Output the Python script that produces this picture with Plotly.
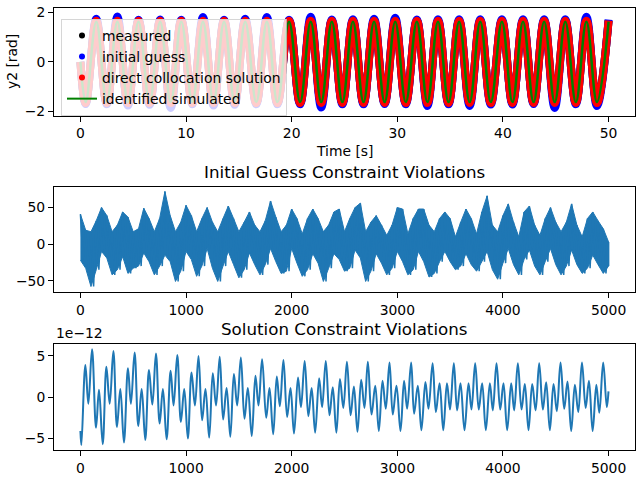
import plotly.graph_objects as go

# ---------------- top panel: y2 [rad] vs time (extrema) ----------------
t_ext = [0.0, 0.5, 1.5, 2.5, 3.5, 4.5, 5.5, 6.55, 7.55, 8.55, 9.55, 10.6, 11.6,
         12.6, 13.6, 14.6, 15.6, 16.65, 17.65, 18.65, 19.75,
         20.8, 21.8, 22.8, 23.8, 24.8, 25.8, 26.8, 27.8, 28.8, 29.8, 30.8,
         31.85, 32.85, 33.85, 34.85, 35.85, 36.85, 37.85, 38.85, 39.9, 40.9, 41.9,
         42.9, 43.9, 44.9, 45.9, 46.9, 47.9, 48.9, 50.0]
measured = [0.0, -1.66, 1.66, -1.66, 1.66, -1.66, 1.66, -1.66, 1.66, -1.66, 1.66,
            -1.66, 1.66, -1.66, 1.66, -1.66, 1.66, -1.66, 1.66, -1.66, 1.66,
            -1.66, 1.66, -1.66, 1.66, -1.66, 1.66, -1.66, 1.66, -1.66, 1.66,
            -1.66, 1.66, -1.66, 1.66, -1.66, 1.66, -1.66, 1.66, -1.66, 1.66, -1.66,
            1.66, -1.66, 1.66, -1.66, 1.66, -1.66, 1.66, -1.66, 1.66]
initial_guess = [0.0, -1.70, 1.74, -1.71, 1.83, -1.76, 1.70, -1.73, 1.71, -1.86, 1.70,
                 -1.71, 1.81, -1.76, 1.70, -1.73, 1.74, -1.71, 1.81, -1.71, 1.70,
                 -1.71, 1.82, -1.84, 1.71, -1.71, 1.72, -1.71, 1.74, -1.70, 1.78,
                 -1.71, 1.71, -1.78, 1.72, -1.71, 1.72, -1.78, 1.72, -1.72, 1.72, -1.72,
                 1.72, -1.70, 1.72, -1.86, 1.72, -1.71, 1.82, -1.78, 1.70]
collocation = [0.0, -1.66, 1.66, -1.66, 1.66, -1.66, 1.66, -1.66, 1.66, -1.66, 1.66,
               -1.66, 1.66, -1.66, 1.66, -1.66, 1.66, -1.66, 1.66, -1.66, 1.66,
               -1.66, 1.66, -1.66, 1.66, -1.66, 1.66, -1.66, 1.66, -1.66, 1.66,
               -1.66, 1.66, -1.66, 1.66, -1.66, 1.66, -1.66, 1.66, -1.66, 1.66, -1.66,
               1.66, -1.66, 1.66, -1.66, 1.66, -1.66, 1.66, -1.66, 1.66]
simulated = [0.0, -1.62, 1.62, -1.62, 1.62, -1.62, 1.62, -1.62, 1.62, -1.62, 1.62,
             -1.62, 1.62, -1.62, 1.62, -1.62, 1.62, -1.62, 1.62, -1.62, 1.62,
             -1.62, 1.62, -1.62, 1.62, -1.62, 1.62, -1.62, 1.62, -1.62, 1.62,
             -1.62, 1.62, -1.62, 1.62, -1.62, 1.62, -1.62, 1.62, -1.62, 1.62, -1.62,
             1.62, -1.62, 1.62, -1.62, 1.62, -1.62, 1.62, -1.62, 1.62]

# ---------------- middle panel: initial guess constraint violations (band envelope) ----------------
ig_idx = list(range(0, 5001, 50))
ig_upper = [41, 19, 17, 32, 50, 39, 17, 26, 44, 37,
            17, 21, 49, 35, 17, 35, 72, 39, 17, 30,
            53, 39, 17, 35, 50, 30, 17, 35, 52, 35,
            17, 30, 44, 26, 17, 32, 59, 37, 17, 26,
            48, 35, 14, 35, 48, 35, 17, 26, 44, 48,
            17, 35, 50, 56, 17, 30, 39, 26, 12, 26,
            50, 48, 14, 35, 48, 48, 26, 17, 35, 44,
            35, 10, 30, 48, 35, 14, 44, 66, 26, 17,
            39, 55, 30, 10, 44, 52, 26, 12, 35, 50,
            30, 17, 30, 55, 26, 10, 35, 44, 32, 21,
            3]
ig_lower = [-22, -33, -58, -35, -10, -19, -42, -35, -17, -40,
            -33, -30, -12, -24, -42, -30, -15, -24, -51, -37,
            -10, -21, -44, -30, -6, -33, -51, -30, -10, -28,
            -46, -35, -12, -28, -42, -28, -6, -24, -40, -37,
            -6, -26, -44, -35, -13, -26, -51, -33, -13, -21,
            -37, -33, -8, -19, -51, -37, -13, -26, -42, -33,
            -10, -24, -42, -35, -10, -24, -45, -40, -24, -10,
            -24, -35, -30, -13, -28, -37, -24, -10, -35, -48,
            -26, -6, -28, -42, -21, -8, -30, -42, -24, -6,
            -28, -42, -30, -8, -28, -40, -33, -15, -28, -40,
            -30]

# ---------------- bottom panel: solution constraint violations (x1e-12, extrema) ----------------
sol_idx = [0, 9, 47, 75, 110, 148, 176, 211, 246, 277, 312, 346, 378, 412, 450, 478,
           513, 548, 580, 614, 649, 681, 715, 750, 781, 816, 854, 882, 917, 951, 983,
           1017, 1052, 1084, 1118, 1152, 1184, 1219, 1253, 1284, 1319, 1351, 1384, 1419,
           1453, 1484, 1519, 1553, 1585, 1622, 1657, 1686, 1720, 1759, 1790, 1825, 1859,
           1888, 1922, 1957, 1989, 2022, 2060, 2088, 2123, 2158, 2189, 2222, 2260, 2288,
           2323, 2358, 2389, 2423, 2457, 2489, 2523, 2558, 2589, 2623, 2658, 2689, 2721,
           2756, 2791, 2825, 2860, 2891, 2926, 2957, 2992, 3030, 3064, 3093, 3131, 3159,
           3194, 3228, 3266, 3295, 3334, 3365, 3400, 3435, 3470, 3499, 3535, 3566, 3598,
           3636, 3674, 3702, 3737, 3771, 3803, 3838, 3876, 3904, 3939, 3974, 4005, 4040,
           4078, 4106, 4141, 4176, 4207, 4242, 4277, 4309, 4343, 4378, 4409, 4444, 4479,
           4510, 4545, 4580, 4611, 4646, 4681, 4713, 4748, 4783, 4814, 4849, 4884, 4912,
           4949, 4983, 4999]
sol_viol = [-4.1, -5.8, 3.9, -0.8, 5.8, -3.7, 0.9, -5.7, 3.7, -0.8, 5.6, -3.6, 1.0, -5.5,
            3.5, -0.8, 5.4, -3.5, 1.0, -5.2, 3.3, -0.9, 5.3, -3.2, 1.0, -5.1, 3.2, -1.0,
            5.1, -3.0, 1.0, -5.0, 3.0, -1.0, 5.0, -2.8, 1.0, -4.9, 2.9, -1.0, 4.9, -2.7,
            1.1, -4.8, 2.8, -1.0, 4.8, -2.6, 1.1, -4.7, 2.6, -1.0, 4.6, -2.5, 1.1, -4.5,
            2.5, -1.1, 4.5, -2.4, 1.1, -4.4, 2.4, -1.2, 4.4, -2.3, 1.1, -4.3, 2.3, -1.2,
            4.4, -2.2, 1.2, -4.3, 2.2, -1.3, 4.3, -2.2, 1.3, -4.2, 2.1, -1.3, 4.3, -2.1,
            1.4, -4.1, 2.0, -1.4, 4.2, -2.1, 1.4, -4.1, 2.0, -1.4, 4.2, -2.0, 1.4, -4.0,
            1.85, -1.4, 4.1, -1.8, 1.7, -4.0, 1.7, -1.5, 4.1, -1.6, 1.7, -4.0, 1.7, -1.5,
            4.1, -1.5, 1.7, -4.0, 1.7, -1.6, 4.1, -1.5, 1.7, -4.0, 1.7, -1.6, 4.1, -1.5,
            1.6, -4.0, 1.6, -1.6, 4.1, -1.5, 1.8, -4.0, 1.6, -1.7, 4.2, -1.4, 1.9, -4.1,
            1.5, -1.8, 4.2, -1.3, 2.0, -4.1, 1.5, -1.9, 4.2, -1.2, 0.7]

# ---------------- layout helpers ----------------
W, H = 640, 480
ML, MR, MT, MB = 54, 4, 6, 28
PW = W - ML - MR
PH = H - MT - MB
FONT = "DejaVu Sans"
FS = 13.9
C_BLUE = "#1f77b4"


def dom(top_px, bot_px):
    return [(H - MB - bot_px) / PH, (H - MB - top_px) / PH]


def py(px):
    return (H - MB - px) / PH


def pxx(px):
    return (px - ML) / PW


fig = go.Figure()

# top panel series (the semi-transparent legend box washes them out where it overlaps)
for ys, col, w in [(measured, "black", 8), (initial_guess, "blue", 8),
                   (collocation, "red", 8), (simulated, "green", 2.5)]:
    fig.add_trace(go.Scatter(x=t_ext, y=ys, mode="lines",
                             line=dict(color=col, width=w, shape="spline", smoothing=1.1),
                             showlegend=False, hoverinfo="skip", xaxis="x", yaxis="y"))

# legend entries
for name, col in [("measured", "black"), ("initial guess", "blue"),
                  ("direct collocation solution", "red")]:
    fig.add_trace(go.Scatter(x=[None], y=[None], mode="markers", name=name,
                             marker=dict(color=col, size=6), xaxis="x", yaxis="y"))
fig.add_trace(go.Scatter(x=[None], y=[None], mode="lines", name="identified simulated",
                         line=dict(color="green", width=2), xaxis="x", yaxis="y"))

# middle: solid band between envelopes + jagged zig-zag on top
fig.add_trace(go.Scatter(x=ig_idx + ig_idx[::-1], y=ig_upper + ig_lower[::-1],
                         mode="lines", fill="toself", fillcolor=C_BLUE,
                         line=dict(color=C_BLUE, width=1, simplify=False),
                         showlegend=False, hoverinfo="skip", xaxis="x2", yaxis="y2"))
zx, zy = [], []
for i, s in enumerate(ig_idx):
    zx.append(s)
    zy.append(ig_upper[i])
    zx.append(min(s + 25, 5000))
    zy.append(ig_lower[i])
fig.add_trace(go.Scatter(x=zx, y=zy, mode="lines",
                         line=dict(color=C_BLUE, width=1.5, simplify=False),
                         showlegend=False, hoverinfo="skip", xaxis="x2", yaxis="y2"))

# bottom
fig.add_trace(go.Scatter(x=sol_idx, y=sol_viol, mode="lines",
                         line=dict(color=C_BLUE, width=2, shape="spline", smoothing=1.1),
                         showlegend=False, hoverinfo="skip", xaxis="x3", yaxis="y3"))

axis_common = dict(showline=True, linecolor="black", linewidth=1, mirror=True,
                   ticks="outside", ticklen=5, tickwidth=1, tickcolor="black",
                   showgrid=False, zeroline=False,
                   tickfont=dict(family=FONT, size=FS, color="black"))

fig.update_layout(
    width=W, height=H,
    margin=dict(l=ML, r=MR, t=MT, b=MB),
    paper_bgcolor="white", plot_bgcolor="white",
    font=dict(family=FONT, size=FS, color="black"),
    xaxis=dict(domain=[0, 1], range=[-2.5, 52.5], tickvals=[0, 10, 20, 30, 40, 50],
               anchor="y", **axis_common),
    yaxis=dict(domain=dom(6.5, 114.5), range=[-2.16, 2.15], tickvals=[-2, 0, 2],
               anchor="x", **axis_common),
    xaxis2=dict(domain=[0, 1], range=[-250, 5250],
                tickvals=[0, 1000, 2000, 3000, 4000, 5000], anchor="y2", **axis_common),
    yaxis2=dict(domain=dom(186.7, 293), range=[-66, 78], tickvals=[-50, 0, 50],
                anchor="x2", **axis_common),
    xaxis3=dict(domain=[0, 1], range=[-250, 5250],
                tickvals=[0, 1000, 2000, 3000, 4000, 5000], anchor="y3", **axis_common),
    yaxis3=dict(domain=dom(345, 452), range=[-6.4, 6.45], tickvals=[-5, 0, 5],
                anchor="x3", **axis_common),
    legend=dict(x=pxx(61), y=py(17), xanchor="left", yanchor="top",
                bgcolor="rgba(255,255,255,0.8)", bordercolor="rgba(204,204,204,0.8)",
                borderwidth=1,
                font=dict(family=FONT, size=FS, color="black"),
                tracegroupgap=0, itemwidth=30),
    showlegend=True,
)

fig.add_annotation(text="Time [s]", xref="x domain", yref="paper", x=0.5, y=py(114.5),
                   xanchor="center", yanchor="top", yshift=-25, showarrow=False,
                   font=dict(family=FONT, size=FS, color="black"))
fig.add_annotation(text="y2 [rad]", xref="paper", yref="paper",
                   x=pxx(12), y=py(60.5), xanchor="center", yanchor="middle",
                   textangle=-90, showarrow=False,
                   font=dict(family=FONT, size=FS, color="black"))
fig.add_annotation(text="Initial Guess Constraint Violations", xref="paper",
                   yref="paper", x=0.5, y=py(186.7), xanchor="center", yanchor="bottom",
                   yshift=3, showarrow=False, font=dict(family=FONT, size=16.7, color="black"))
fig.add_annotation(text="Solution Constraint Violations", xref="paper",
                   yref="paper", x=0.5, y=py(345), xanchor="center", yanchor="bottom",
                   yshift=3, showarrow=False, font=dict(family=FONT, size=16.7, color="black"))
fig.add_annotation(text="1e\u221212", xref="paper", yref="paper", x=0, y=py(345),
                   xanchor="left", yanchor="bottom", yshift=1, showarrow=False,
                   font=dict(family=FONT, size=FS, color="black"))

fig.write_html("out.html")
